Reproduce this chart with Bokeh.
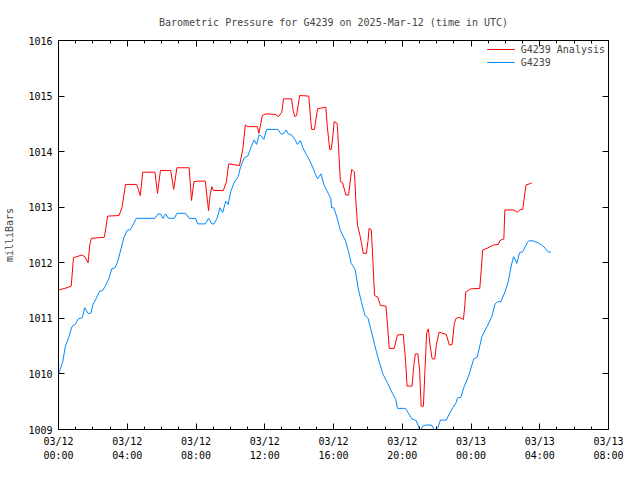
from bokeh.plotting import figure
from bokeh.models import LinearAxis, FixedTicker, Range1d, Legend, LegendItem
from bokeh.embed import file_html
from bokeh.resources import INLINE

# hours since 2025-03-12 00:00 UTC
analysis_hours = [0.00, 0.49, 0.74, 0.87, 1.35, 1.53, 1.72, 1.82, 1.91, 2.67, 2.86, 3.52, 3.69, 3.90,
                  4.55, 4.76, 4.90, 5.61, 5.76, 5.93, 6.53, 6.70, 6.89, 7.60, 7.74, 7.88, 8.11, 8.54,
                  8.64, 8.73, 8.82, 8.92, 9.02, 9.59, 9.77, 9.90, 10.53, 10.72, 10.87, 11.01, 11.57,
                  11.66, 11.86, 12.05, 12.61, 12.80, 12.99, 13.09, 13.56, 13.65, 13.75, 13.85, 14.03,
                  14.56, 14.70, 14.73, 14.89, 15.07, 15.55, 15.64, 15.78, 15.87, 15.97, 16.04, 16.21,
                  16.25, 16.31, 16.40, 16.53, 16.72, 16.88, 16.97, 17.06, 17.22, 17.29, 17.40, 17.54,
                  17.63, 17.73, 17.91, 18.01, 18.07, 18.20, 18.30, 18.35, 18.39, 18.58, 18.73, 19.05,
                  19.15, 19.24, 19.53, 19.72, 20.06, 20.19, 20.28, 20.57, 20.66, 20.76, 20.91, 21.01,
                  21.10, 21.23, 21.32, 21.42, 21.52, 21.61, 21.74, 21.89, 21.99, 22.14, 22.27, 22.56,
                  22.74, 22.90, 23.03, 23.13, 23.31, 23.56, 23.64, 23.69, 23.98, 24.51, 24.59, 24.68,
                  24.93, 25.30, 25.59, 25.68, 25.91, 25.97, 26.49, 26.69, 26.86, 27.01, 27.10, 27.20,
                  27.39, 27.54]
analysis_mb = [1011.51, 1011.55, 1011.58, 1012.09, 1012.14, 1012.11, 1012.00, 1012.32, 1012.44, 1012.46,
               1012.84, 1012.85, 1012.99, 1013.41, 1013.41, 1013.21, 1013.63, 1013.63, 1013.25, 1013.66,
               1013.66, 1013.32, 1013.71, 1013.71, 1013.12, 1013.46, 1013.47, 1013.47, 1013.19, 1012.94,
               1013.22, 1013.37, 1013.30, 1013.30, 1013.46, 1013.78, 1013.75, 1014.04, 1014.48, 1014.45,
               1014.45, 1014.33, 1014.65, 1014.68, 1014.67, 1014.63, 1014.71, 1014.95, 1014.95, 1014.74,
               1014.63, 1014.65, 1015.01, 1015.00, 1014.48, 1014.40, 1014.40, 1014.77, 1014.80, 1014.45,
               1014.04, 1014.04, 1014.30, 1014.54, 1014.51, 1014.33, 1013.98, 1013.46, 1013.44, 1013.22,
               1013.22, 1013.46, 1013.68, 1013.63, 1013.16, 1012.67, 1012.49, 1012.35, 1012.17, 1012.17,
               1012.40, 1012.62, 1012.59, 1011.99, 1011.64, 1011.41, 1011.38, 1011.23, 1011.22, 1010.85,
               1010.46, 1010.46, 1010.70, 1010.71, 1010.24, 1009.78, 1009.78, 1010.12, 1010.36, 1010.36,
               1010.06, 1009.42, 1009.42, 1010.06, 1010.74, 1010.81, 1010.53, 1010.27, 1010.27, 1010.53,
               1010.75, 1010.74, 1010.71, 1010.52, 1010.53, 1010.91, 1011.00, 1011.02, 1010.98, 1011.23,
               1011.47, 1011.53, 1011.54, 1011.85, 1012.23, 1012.26, 1012.32, 1012.33, 1012.40, 1012.43,
               1012.95, 1012.95, 1012.91, 1012.96, 1012.96, 1013.18, 1013.40, 1013.42, 1013.44]

station_hours = [0.00, 0.24, 0.40, 0.59, 0.78, 0.97, 1.15, 1.38, 1.53, 1.72, 1.88, 2.01, 2.20, 2.39,
                 2.57, 2.77, 2.95, 3.09, 3.28, 3.43, 3.62, 3.81, 3.99, 4.19, 4.38, 4.53, 5.61, 5.80,
                 5.93, 6.08, 6.23, 6.40, 6.74, 6.89, 7.40, 7.60, 7.97, 8.11, 8.54, 8.73, 8.92, 9.05,
                 9.24, 9.39, 9.55, 9.73, 9.87, 10.02, 10.24, 10.44, 10.59, 10.81, 11.01, 11.19, 11.38,
                 11.53, 11.66, 11.76, 11.95, 12.10, 12.77, 12.94, 13.09, 13.24, 13.37, 13.56, 13.75,
                 13.90, 14.07, 14.22, 14.41, 14.60, 14.79, 14.98, 15.07, 15.27, 15.45, 15.64, 15.84,
                 15.89, 16.02, 16.21, 16.40, 16.69, 16.88, 17.03, 17.26, 17.44, 17.63, 17.82, 18.01,
                 18.20, 18.39, 18.58, 18.86, 19.15, 19.43, 19.62, 19.72, 20.19, 20.38, 20.57, 20.81,
                 21.04, 21.23, 21.42, 21.70, 21.89, 22.08, 22.22, 22.56, 22.74, 22.94, 23.13, 23.22,
                 23.41, 23.60, 23.88, 24.16, 24.36, 24.64, 24.93, 25.21, 25.40, 25.55, 25.74, 25.97,
                 26.15, 26.35, 26.48, 26.67, 26.82, 27.01, 27.29, 27.39, 27.67, 27.95, 28.24, 28.47,
                 28.65]
station_mb = [1010.00, 1010.21, 1010.50, 1010.65, 1010.85, 1010.89, 1010.99, 1011.01, 1011.19, 1011.09,
              1011.09, 1011.25, 1011.36, 1011.49, 1011.50, 1011.61, 1011.73, 1011.89, 1011.91, 1012.01,
              1012.23, 1012.46, 1012.58, 1012.60, 1012.71, 1012.80, 1012.80, 1012.88, 1012.88, 1012.80,
              1012.88, 1012.80, 1012.80, 1012.89, 1012.89, 1012.80, 1012.80, 1012.70, 1012.70, 1012.80,
              1012.70, 1012.70, 1012.81, 1012.99, 1012.90, 1013.11, 1013.05, 1013.28, 1013.46, 1013.54,
              1013.72, 1013.89, 1013.92, 1014.07, 1014.21, 1014.13, 1014.30, 1014.29, 1014.22, 1014.40,
              1014.40, 1014.32, 1014.32, 1014.39, 1014.32, 1014.30, 1014.22, 1014.13, 1014.20, 1014.07,
              1013.95, 1013.85, 1013.72, 1013.57, 1013.51, 1013.60, 1013.40, 1013.28, 1013.16, 1012.99,
              1012.99, 1012.81, 1012.58, 1012.40, 1012.20, 1011.99, 1011.88, 1011.53, 1011.29, 1011.06,
              1011.00, 1010.77, 1010.53, 1010.30, 1010.01, 1009.83, 1009.65, 1009.54, 1009.38, 1009.38,
              1009.28, 1009.19, 1009.16, 1008.98, 1009.07, 1009.08, 1009.08, 1008.98, 1009.04, 1009.17,
              1009.17, 1009.28, 1009.39, 1009.48, 1009.57, 1009.58, 1009.77, 1009.98, 1010.27, 1010.30,
              1010.68, 1010.85, 1011.03, 1011.26, 1011.30, 1011.30, 1011.47, 1011.64, 1011.96, 1012.11,
              1011.99, 1012.18, 1012.20, 1012.37, 1012.40, 1012.39, 1012.35, 1012.29, 1012.20, 1012.19]

x_tick_hours = [0, 4, 8, 12, 16, 20, 24, 28, 32]
x_tick_labels = ["03/12\n00:00", "03/12\n04:00", "03/12\n08:00", "03/12\n12:00", "03/12\n16:00",
                 "03/12\n20:00", "03/13\n00:00", "03/13\n04:00", "03/13\n08:00"]
x_minor_hours = list(range(0, 33))
y_ticks = [1009, 1010, 1011, 1012, 1013, 1014, 1015, 1016]

FONT = "DejaVu Sans Mono"
FS = "10px"

p = figure(width=624, height=464, output_backend="svg", toolbar_location=None,
           x_range=Range1d(0, 32), y_range=Range1d(1009, 1016),
           min_border_left=58, min_border_right=16, min_border_top=40, min_border_bottom=33,
           title="Barometric Pressure for G4239 on 2025-Mar-12 (time in UTC)")
p.title.align = "center"
p.title.text_font = FONT
p.title.text_font_size = FS
p.title.text_font_style = "normal"
p.title.standoff = 25

p.grid.visible = False
p.outline_line_color = "black"
p.outline_line_width = 1
p.background_fill_color = "white"
p.border_fill_color = "white"

r1 = p.line(analysis_hours, analysis_mb, line_color="#ff0000", line_width=1)
r2 = p.line(station_hours, station_mb, line_color="#0088ff", line_width=1)

xticker = FixedTicker(ticks=x_tick_hours, minor_ticks=x_minor_hours)
yticker = FixedTicker(ticks=y_ticks, minor_ticks=[])

def style_axis(ax):
    ax.axis_line_color = "black"
    ax.major_tick_in = 6
    ax.major_tick_out = 0
    ax.minor_tick_in = 3
    ax.minor_tick_out = 0
    ax.major_tick_line_color = "black"
    ax.minor_tick_line_color = "black"
    ax.major_label_text_font = FONT
    ax.major_label_text_font_size = FS
    ax.major_label_text_color = "black"
    ax.axis_label_text_font = FONT
    ax.axis_label_text_font_size = FS
    ax.axis_label_text_font_style = "normal"

def hide_labels(ax, ticks):
    ax.major_label_overrides = {t: "" for t in ticks}
    ax.major_label_text_color = None
    ax.major_label_text_font_size = "1px"
    ax.major_label_standoff = 0

xa = p.xaxis[0]
xa.ticker = xticker
xa.major_label_overrides = {h: lab for h, lab in zip(x_tick_hours, x_tick_labels)}
style_axis(xa)
xa.major_label_standoff = 6
xa.major_label_text_line_height = 1.35

ya = p.yaxis[0]
ya.ticker = yticker
style_axis(ya)
ya.minor_tick_line_color = None
ya.major_label_standoff = 6
ya.axis_label = "milliBars"
ya.axis_label_standoff = 10

top = LinearAxis(ticker=xticker)
style_axis(top)
hide_labels(top, x_tick_hours)
p.add_layout(top, "above")

right = LinearAxis(ticker=yticker)
style_axis(right)
right.minor_tick_line_color = None
hide_labels(right, y_ticks)
p.add_layout(right, "right")

legend = Legend(items=[LegendItem(label="G4239 Analysis", renderers=[r1]),
                       LegendItem(label="G4239", renderers=[r2])],
                location="top_right")
legend.label_text_font = FONT
legend.label_text_font_size = FS
legend.background_fill_alpha = 0
legend.border_line_color = None
legend.glyph_width = 28
legend.glyph_height = 12
legend.label_height = 12
legend.spacing = 1
legend.padding = 1
legend.margin = 3
legend.label_standoff = 6
p.add_layout(legend)

open("out.html", "w").write(file_html(p, INLINE))
